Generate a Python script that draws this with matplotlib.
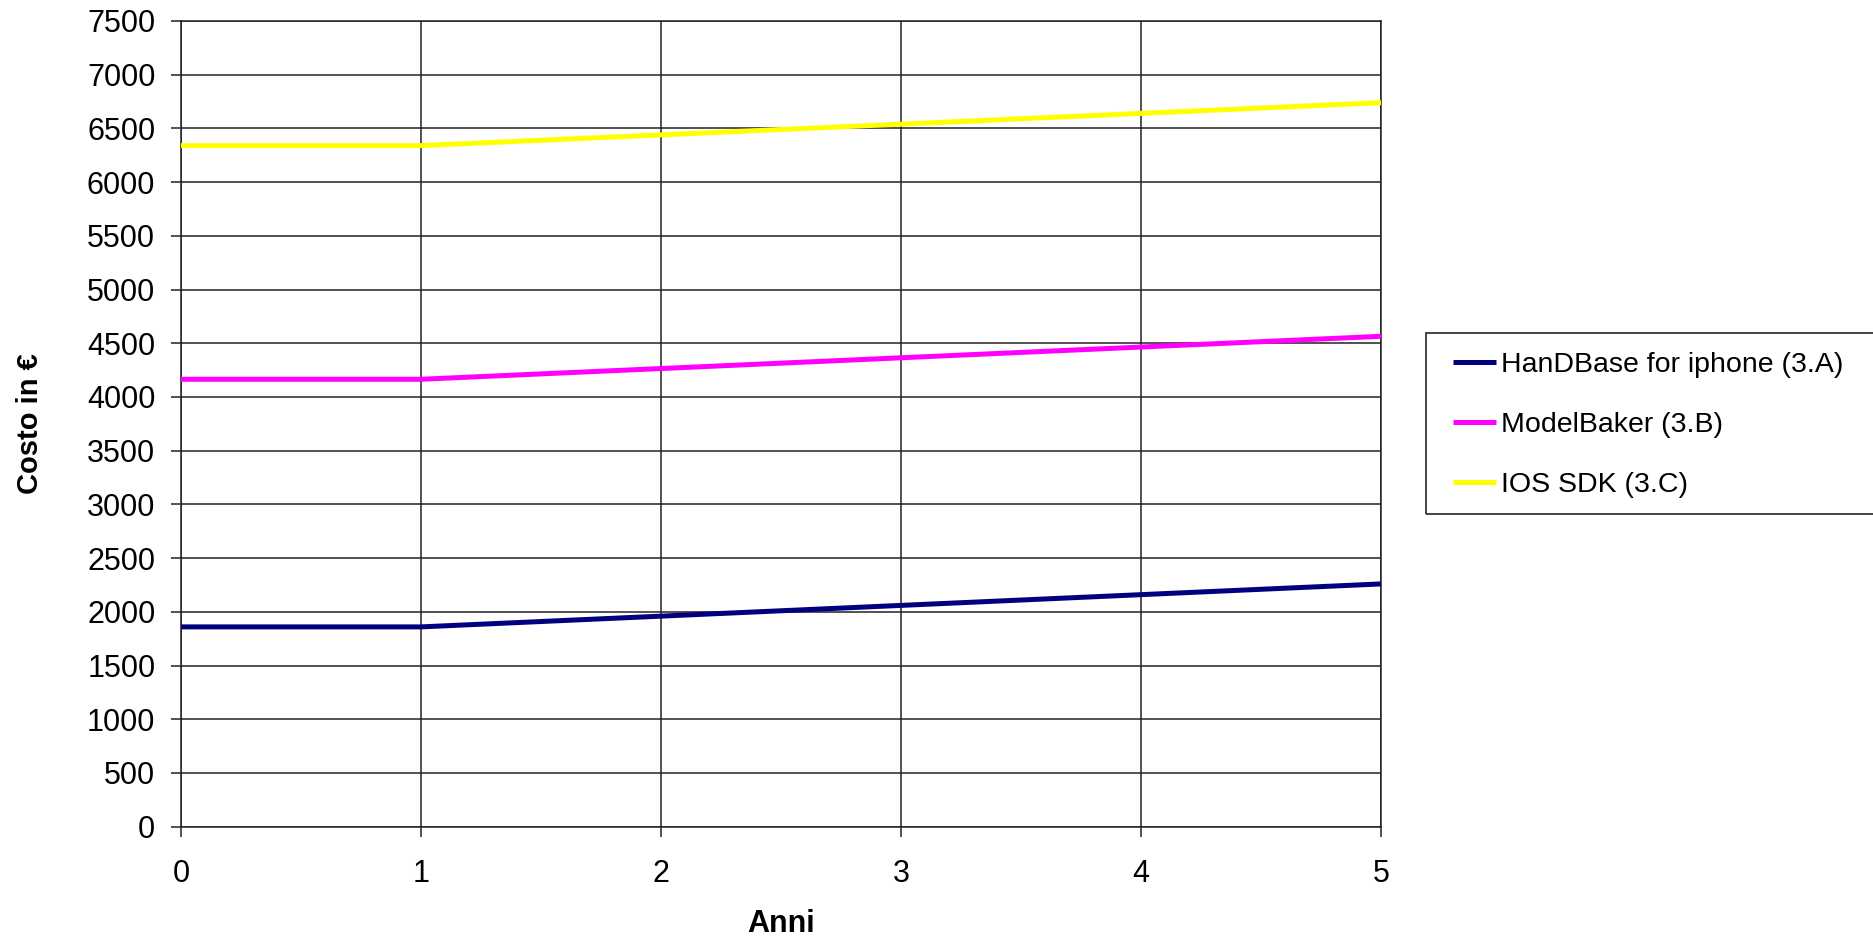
import matplotlib
matplotlib.use("Agg")
import matplotlib.pyplot as plt
from matplotlib.patches import Rectangle

years = [0, 1, 2, 3, 4, 5]
handbase = [1860, 1860, 1960, 2060, 2160, 2260]
modelbaker = [4165, 4165, 4265, 4365, 4465, 4565]
ios_sdk = [6340, 6340, 6440, 6540, 6640, 6740]
labels = ["HanDBase for iphone (3.A)", "ModelBaker (3.B)", "IOS SDK (3.C)"]
colors = ["#000080", "#FF00FF", "#FFFF00"]

plt.rcParams['font.family'] = ['Liberation Sans', 'DejaVu Sans']

W, H = 1874, 943
fig = plt.figure(figsize=(W / 100, H / 100), dpi=100)
ax = fig.add_axes([181 / W, (H - 826.7) / H, 1200 / W, 805.7 / H])

lines = []
for ys, c, lab in zip([handbase, modelbaker, ios_sdk], colors, labels):
    ln, = ax.plot(years, ys, color=c, lw=3.6, label=lab, solid_capstyle='butt', zorder=3)
    lines.append(ln)

ax.set_xlim(0, 5)
ax.set_ylim(0, 7500)
ax.set_xticks(range(0, 6))
ax.set_yticks(range(0, 7501, 500))
ax.grid(True, color='#222222', lw=1.1, zorder=1)
for s in ax.spines.values():
    s.set_color('#222222')
    s.set_linewidth(1.1)
ax.tick_params(axis='both', direction='out', length=7.5, width=1.1, color='#222222',
               labelsize=22)
ax.tick_params(axis='y', pad=11)
ax.tick_params(axis='x', pad=15.5)

ax.set_xlabel("Anni", fontsize=22, fontweight='bold', labelpad=15)
ax.set_ylabel("Costo in €", fontsize=21, fontweight='bold', labelpad=31)

# legend frame (extends past figure edge)
fig.add_artist(Rectangle((1426 / W, (H - 514) / H), 460 / W, 181 / H,
                         transform=fig.transFigure, fill=False, ec='#222222', lw=1.2))
fig.legend(handles=lines, labels=labels, loc='upper left',
           bbox_to_anchor=(1453 / W, 1 - 352 / H), frameon=False, fontsize=20.5,
           handlelength=1.5, handletextpad=0.18, labelspacing=1.2, borderpad=0,
           borderaxespad=0)

fig.savefig("out.png", dpi=100)
